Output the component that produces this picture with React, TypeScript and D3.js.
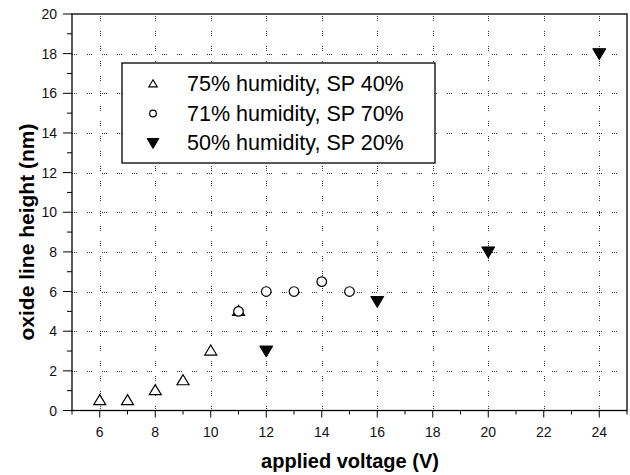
import React from "react";
import * as d3 from "d3";

const series1X = [6, 7, 8, 9, 10, 11];
const series1Y = [0.5, 0.5, 1, 1.5, 3, 5];
const series2X = [11, 12, 13, 14, 15];
const series2Y = [5, 6, 6, 6.5, 6];
const series3X = [12, 16, 20, 24];
const series3Y = [3, 5.5, 8, 18];
const legendLabels = ["75% humidity, SP 40%", "71% humidity, SP 70%", "50% humidity, SP 20%"];
const xMajorTicks = [6, 8, 10, 12, 14, 16, 18, 20, 22, 24];
const yMajorTicks = [0, 2, 4, 6, 8, 10, 12, 14, 16, 18, 20];

const W = 630, H = 475;
const L = 72, R = 627, T = 14, B = 410.5;

function Marker({ kind, x, y, s = 1 }: { kind: number; x: number; y: number; s?: number }) {
  if (kind === 0) {
    const h = 10 * s, w = 12 * s;
    return <path d={`M${x},${y - h * 0.6} L${x + w / 2},${y + h * 0.4} L${x - w / 2},${y + h * 0.4} Z`} fill="white" stroke="black" strokeWidth={1.2} />;
  }
  if (kind === 1) {
    return <circle cx={x} cy={y} r={4.8 * s} fill="white" stroke="black" strokeWidth={1.2} />;
  }
  const h = 11 * s, w = 13 * s;
  return <path d={`M${x - w / 2},${y - h * 0.45} L${x + w / 2},${y - h * 0.45} L${x},${y + h * 0.55} Z`} fill="black" stroke="black" strokeWidth={1} />;
}

export default function App() {
  const x = d3.scaleLinear().domain([5, 25]).range([L, R]);
  const y = d3.scaleLinear().domain([0, 20]).range([B, T]);
  const xMinor = d3.range(5, 26, 1).filter((v) => v % 2 === 1);
  const yMinor = d3.range(1, 20, 2);
  const dash = "1,1,1,1,1,10";
  const s1 = series1X.map((v, i) => [v, series1Y[i]]);
  const s2 = series2X.map((v, i) => [v, series2Y[i]]);
  const s3 = series3X.map((v, i) => [v, series3Y[i]]);
  const font = "Arial, 'Liberation Sans', sans-serif";
  const px = (v: number) => Math.round(v) + 0.5;
  return (
    <svg width={W} height={H} style={{ position: "absolute", left: 0, top: 0, background: "white" }}>
      <rect x={0} y={0} width={W} height={H} fill="white" />
      <g stroke="#333" strokeWidth={1} strokeDasharray={dash} shapeRendering="crispEdges">
        {xMajorTicks.map((v) => (
          <line key={"gx" + v} x1={px(x(v))} x2={px(x(v))} y1={B} y2={T} />
        ))}
        {yMajorTicks.filter((v) => v > 0 && v < 20).map((v) => (
          <line key={"gy" + v} x1={L} x2={R} y1={px(y(v))} y2={px(y(v))} />
        ))}
      </g>
      <rect x={L} y={T} width={R - L} height={B - T} fill="none" stroke="black" strokeWidth={1.3} />
      <g stroke="black" strokeWidth={1}>
        {xMajorTicks.map((v) => (
          <line key={"tx" + v} x1={x(v)} x2={x(v)} y1={B} y2={B + 7} />
        ))}
        {xMinor.map((v) => (
          <line key={"mx" + v} x1={x(v)} x2={x(v)} y1={B} y2={B + 4} />
        ))}
        {yMajorTicks.map((v) => (
          <line key={"ty" + v} x1={L - 9} x2={L} y1={y(v)} y2={y(v)} />
        ))}
        {yMinor.map((v) => (
          <line key={"my" + v} x1={L - 5} x2={L} y1={y(v)} y2={y(v)} />
        ))}
      </g>
      <g fontFamily={font} fontSize={14} fill="#111">
        {xMajorTicks.map((v) => (
          <text key={"lx" + v} x={x(v)} y={B + 26} textAnchor="middle">{v}</text>
        ))}
        {yMajorTicks.map((v) => (
          <text key={"ly" + v} x={L - 15} y={y(v) + 5} textAnchor="end">{v}</text>
        ))}
      </g>
      <text x={350} y={468} textAnchor="middle" fontFamily={font} fontWeight="bold" fontSize={20}>applied voltage (V)</text>
      <text transform={`translate(34,${232}) rotate(-90)`} textAnchor="middle" fontFamily={font} fontWeight="bold" fontSize={21}>oxide line height (nm)</text>
      {s1.map((d, i) => <Marker key={"a" + i} kind={0} x={x(d[0])} y={y(d[1])} />)}
      {s2.map((d, i) => <Marker key={"b" + i} kind={1} x={x(d[0])} y={y(d[1])} />)}
      {s3.map((d, i) => <Marker key={"c" + i} kind={2} x={x(d[0])} y={y(d[1])} />)}
      <rect x={122} y={63} width={313} height={100} fill="white" stroke="black" strokeWidth={1.3} />
      {legendLabels.map((lab, i) => (
        <g key={"lg" + i}>
          <Marker kind={i} x={153} y={84 + i * 29.5} s={i === 2 ? 0.9 : 0.7} />
          <text x={187} y={91 + i * 29.5} fontFamily={font} fontSize={21.5} fill="black">{lab}</text>
        </g>
      ))}
    </svg>
  );
}
